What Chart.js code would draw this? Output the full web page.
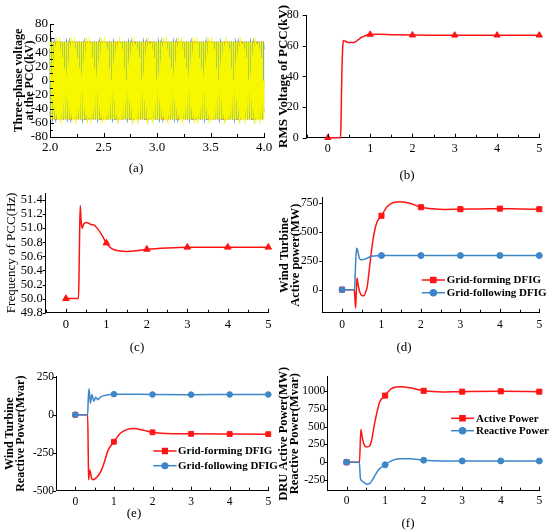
<!DOCTYPE html>
<html><head><meta charset="utf-8">
<script src="https://cdn.jsdelivr.net/npm/chart.js@4.4.0/dist/chart.umd.min.js"></script>
<style>
html,body{margin:0;padding:0;background:#fff;}
#wrap{position:relative;width:550px;height:532px;overflow:hidden;background:#fff;}
canvas{position:absolute;left:0;top:0;}
.cap{position:absolute;font-family:"Liberation Serif","Times New Roman",serif;font-size:13px;color:#000;transform:translate(-50%,-50%);white-space:nowrap;}
</style></head><body><div id="wrap">
<canvas id="ca" width="550" height="532"></canvas>
<canvas id="cb" width="550" height="532"></canvas>
<canvas id="cc" width="550" height="532"></canvas>
<canvas id="cd" width="550" height="532"></canvas>
<canvas id="ce" width="550" height="532"></canvas>
<canvas id="cf" width="550" height="532"></canvas>
<div class="cap" style="left:136px;top:168px">(a)</div>
<div class="cap" style="left:407px;top:175px">(b)</div>
<div class="cap" style="left:137px;top:347px">(c)</div>
<div class="cap" style="left:404px;top:347px">(d)</div>
<div class="cap" style="left:134px;top:513px">(e)</div>
<div class="cap" style="left:408px;top:523px">(f)</div>
</div>
<script>
// ---------------- DATA ----------------
// (a) three-phase PCC voltage: one 50 Hz cycle sampled every 1 ms (kV), phases offset in samples
const voltCycleKV = [0, 17, 32.3, 44.5, 52.3, 55, 52.3, 44.5, 32.3, 17, 0, -17, -32.3, -44.5, -52.3, -55, -52.3, -44.5, -32.3, -17];
const voltPhaseOffset = [0, 7, 13];
const voltTimeStart = 2.0;
const voltTimeStep = 0.001;
const voltSampleCount = 2001;
const ticksXA = [2.0, 2.5, 3.0, 3.5, 4.0];
const minorXA = [2.25, 2.75, 3.25, 3.75];
const ticksYA = [-80, -60, -40, -20, 0, 20, 40, 60, 80];
const minorYA = [-70, -50, -30, -10, 10, 30, 50, 70];

// (b) RMS voltage of PCC (kV)
const timeB = [0, 0.30, 0.31, 0.33, 0.35, 0.37, 0.40, 0.45, 0.5, 0.58, 0.65, 0.72, 0.8, 0.9, 1.0, 1.2, 1.5, 2, 2.5, 3, 4, 5];
const rmsB  = [0, 0, 8, 40, 58, 63.5, 63.2, 62.4, 62.1, 62.1, 62.6, 64, 65.6, 66.8, 67.4, 67.5, 67.3, 67, 66.9, 66.9, 66.9, 66.9];
const ticksYB = [0, 20, 40, 60, 80];

// (c) Frequency of PCC (Hz)
const timeC = [0, 0.31, 0.325, 0.34, 0.354, 0.375, 0.40, 0.44, 0.5, 0.56, 0.64, 0.68, 0.74, 0.8, 0.87, 0.93, 1.0, 1.13, 1.3, 1.5, 1.75, 2.0, 2.5, 3, 4, 5];
const freqC = [50, 50, 50.4, 51.0, 51.32, 51.1, 51.0, 51.06, 51.08, 51.07, 51.05, 51.05, 51.02, 50.98, 50.92, 50.86, 50.79, 50.71, 50.68, 50.67, 50.68, 50.7, 50.72, 50.73, 50.73, 50.73];
const ticksYC = [49.8, 50.0, 50.2, 50.4, 50.6, 50.8, 51.0, 51.2, 51.4];

// (d) Wind turbine active power (MW)
const timeGfmD = [0, 0.31, 0.32, 0.345, 0.36, 0.38, 0.41, 0.45, 0.5, 0.55, 0.59, 0.64, 0.68, 0.72, 0.76, 0.83, 0.89, 1.0, 1.14, 1.31, 1.48, 1.74, 2.0, 2.3, 2.6, 3, 3.5, 4, 4.5, 5];
const gfmD     = [0, 0, -40, -159, -30, 101, 40, -20, -50, -52, -29, 29, 144, 260, 375, 519, 591, 643, 721, 758, 764, 750, 717, 703, 698, 700, 702, 705, 702, 700];
const timeGflD = [0, 0.32, 0.335, 0.36, 0.38, 0.41, 0.44, 0.48, 0.53, 0.59, 0.66, 0.72, 0.8, 1.0, 2, 3, 4, 5];
const gflD     = [0, 0, 150, 330, 360, 320, 274, 260, 262, 268, 278, 288, 293, 297, 297, 297, 297, 297];
const ticksYD = [0, 250, 500, 750];

// (e) Wind turbine reactive power (Mvar)
const timeGfmE = [0, 0.32, 0.335, 0.345, 0.375, 0.42, 0.46, 0.5, 0.59, 0.68, 0.77, 0.85, 1.0, 1.16, 1.33, 1.5, 1.77, 2.0, 2.5, 3, 4, 5];
const gfmE     = [0, 0, -250, -428, -363, -417, -428, -424, -402, -363, -298, -233, -178, -124, -98, -91, -102, -116, -125, -126, -127, -128];
const timeGflE = [0, 0.32, 0.335, 0.355, 0.39, 0.43, 0.48, 0.53, 0.59, 0.63, 0.72, 1.0, 2, 3, 4, 5];
const gflE     = [0, 0, 100, 170, 76, 133, 89, 115, 98, 111, 124, 135, 133, 132, 133, 133];
const ticksYE = [-500, -250, 0, 250];

// (f) DRU active / reactive power
const timeActF = [0, 0.335, 0.37, 0.405, 0.45, 0.52, 0.59, 0.65, 0.71, 0.78, 0.86, 1.0, 1.16, 1.38, 1.64, 2.0, 2.5, 3, 4, 5];
const actF     = [0, 0, 458, 355, 252, 215, 224, 308, 495, 682, 846, 935, 1033, 1058, 1045, 1002, 986, 990, 995, 990];
const timeReaF = [0, 0.33, 0.36, 0.43, 0.52, 0.6, 0.69, 0.82, 1.0, 1.16, 1.38, 1.64, 2.0, 2.5, 3, 4, 5];
const reaF     = [0, 0, -229, -276, -308, -299, -229, -112, -37, 19, 47, 47, 28, 18, 17, 18, 17];
const ticksYF = [-250, 0, 250, 500, 750, 1000];

// shared x ticks for (b)-(f)
const ticksXT = [0, 1, 2, 3, 4, 5];
const minorXT = [-0.5, 0.5, 1.5, 2.5, 3.5, 4.5];
const markerTimes = [0, 1, 2, 3, 4, 5];

// ---------------- RENDERING ----------------
const FONT = '"Liberation Serif", "Times New Roman", serif';
const RED = '#ff1414';
const BLUE = '#3d86c8';

function xy(times, vals) { return times.map((t, i) => ({ x: t, y: vals[i] })); }

const tickMarks = {
  id: 'tickMarks',
  afterDraw(chart, args, o) {
    if (!o || !o.x) return;
    const ctx = chart.ctx, a = chart.chartArea, xs = chart.scales.x, ys = chart.scales.y;
    ctx.save(); ctx.strokeStyle = '#000'; ctx.lineWidth = 1;
    ctx.beginPath();
    const xv = (vals, len) => vals.forEach(v => {
      const p = Math.round(xs.getPixelForValue(v)) + 0.5;
      ctx.moveTo(p, a.bottom); ctx.lineTo(p, a.bottom + o.x.dir * len);
    });
    const yv = (vals, len) => vals.forEach(v => {
      const p = Math.round(ys.getPixelForValue(v)) + 0.5;
      ctx.moveTo(a.left, p); ctx.lineTo(a.left - o.y.dir * len, p);
    });
    xv(o.x.major, o.x.len); xv(o.x.minor || [], o.x.mlen || o.x.len);
    yv(o.y.major, o.y.len); yv(o.y.minor || [], o.y.mlen || o.y.len);
    ctx.stroke(); ctx.restore();
  }
};

const insideLegend = {
  id: 'insideLegend',
  afterDraw(chart, args, o) {
    if (!o || !o.items) return;
    const ctx = chart.ctx;
    ctx.save();
    o.items.forEach((idx, i) => {
      const ds = chart.data.datasets[idx];
      const y = o.y + i * o.dy;
      ctx.strokeStyle = ds.borderColor; ctx.lineWidth = 1.5;
      ctx.beginPath(); ctx.moveTo(o.x, y); ctx.lineTo(o.x + o.len, y); ctx.stroke();
      ctx.fillStyle = ds.pointBackgroundColor; ctx.strokeStyle = ds.pointBorderColor;
      Chart.helpers.drawPoint(ctx, { pointStyle: ds.pointStyle, radius: ds.markR, borderWidth: 1, rotation: 0 }, o.x + o.len / 2, y);
      ctx.fillStyle = '#000'; ctx.font = 'bold 11px ' + FONT;
      ctx.textBaseline = 'middle'; ctx.textAlign = 'left';
      ctx.fillText(ds.label, o.textX, y + 0.5);
    });
    ctx.restore();
  }
};

function series(label, data, color, style, r, order) {
  return {
    label, data, borderColor: color, backgroundColor: color,
    pointBackgroundColor: color, pointBorderColor: color, pointStyle: style, markR: r,
    borderWidth: 1.5, cubicInterpolationMode: 'monotone', clip: false, order,
    pointRadius: c => (markerTimes.includes(c.raw.x) ? r : 0), pointBorderWidth: 1
  };
}

function panel(id, s) {
  const b = s.box;
  return new Chart(document.getElementById(id), {
    type: 'line',
    data: { datasets: s.datasets },
    options: {
      responsive: false, animation: false, events: [], parsing: false, normalized: true,
      layout: { padding: { left: 0, top: b.T, right: 550 - b.R, bottom: 0 } },
      plugins: { legend: { display: false }, tooltip: { enabled: false },
        tickMarks: s.marks, insideLegend: s.legend || {} },
      scales: {
        x: {
          type: 'linear', min: s.xMin, max: s.xMax,
          grid: { display: false, drawTicks: false },
          border: { display: true, color: '#000', width: 1 },
          ticks: { autoSkip: false, maxRotation: 0, minRotation: 0, padding: s.xPad, color: '#000',
            font: { family: FONT, size: s.tickSize }, callback: s.xFmt || (v => String(v)) },
          afterBuildTicks: sc => { sc.ticks = s.xTicks.map(v => ({ value: v })); },
          afterFit: sc => { sc.height = 532 - b.B; }
        },
        y: {
          type: 'linear', min: s.yMin, max: s.yMax,
          grid: { display: false, drawTicks: false },
          border: { display: true, color: '#000', width: 1 },
          ticks: { autoSkip: false, padding: s.yPad, color: '#000',
            font: { family: FONT, size: s.tickSize }, callback: s.yFmt || (v => String(v)) },
          afterBuildTicks: sc => { sc.ticks = s.yTicks.map(v => ({ value: v })); },
          afterFit: sc => { sc.width = b.L; },
          title: { display: true, text: s.yTitle, color: '#000',
            font: { family: FONT, size: s.titleSize, weight: s.titleWeight || 'bold', lineHeight: s.titleLH },
            padding: { top: s.titlePad, bottom: 0 } }
        }
      }
    },
    plugins: [tickMarks, insideLegend]
  });
}

// (a)
function phaseData(k) {
  const out = [];
  for (let i = 0; i < voltSampleCount; i++) {
    out.push({ x: voltTimeStart + i * voltTimeStep, y: voltCycleKV[(i + voltPhaseOffset[k]) % voltCycleKV.length] });
  }
  return out;
}
const phaseColors = ['#f7f700', '#4a8fc8', '#f03c3c'];
const phaseWidths = [1.6, 1.2, 0.8];
panel('ca', {
  box: { L: 50, R: 264, T: 24, B: 137 },
  xMin: 2.0, xMax: 4.0, yMin: -80, yMax: 80,
  xTicks: ticksXA, yTicks: ticksYA, xFmt: v => v.toFixed(1),
  tickSize: 13, xPad: 3, yPad: 2,
  yTitle: ['Three-phase voltage', 'at the PCC(kV)'], titleSize: 12, titleLH: 0.88, titlePad: 13.7,
  marks: { x: { major: ticksXA, minor: minorXA, len: 4, mlen: 3, dir: -1 }, y: { major: ticksYA, minor: minorYA, len: 4, mlen: 3, dir: -1 } },
  datasets: [0, 1, 2].map(k => ({
    data: phaseData(k), borderColor: phaseColors[k], borderWidth: phaseWidths[k], pointRadius: 0, tension: 0, clip: false, order: k
  }))
});

// (b)
panel('cb', {
  box: { L: 306.7, R: 539.3, T: 15, B: 137.7 },
  xMin: -0.5, xMax: 5, yMin: 0, yMax: 80,
  xTicks: ticksXT, yTicks: ticksYB, tickSize: 12, xPad: 4, yPad: 8,
  yTitle: 'RMS Voltage of PCC(kV)', titleSize: 13, titleLH: 1.0, titlePad: 276.8,
  marks: { x: { major: ticksXT, minor: minorXT, len: 4, mlen: 3, dir: -1 }, y: { major: ticksYB, len: 4, dir: 1 } },
  datasets: [series('RMS', xy(timeB, rmsB), RED, 'triangle', 3.6, 1)]
});

// (c)
panel('cc', {
  box: { L: 45.7, R: 268.3, T: 193, B: 312.7 },
  xMin: -0.5, xMax: 5, yMin: 49.8, yMax: 51.5,
  xTicks: ticksXT, yTicks: ticksYC, yFmt: v => v.toFixed(1), tickSize: 12.5, xPad: 5, yPad: 3,
  yTitle: 'Frequency of PCC(Hz)', titleSize: 13, titleWeight: 'normal', titleLH: 1.0, titlePad: 5.2,
  marks: { x: { major: ticksXT, minor: minorXT, len: 4, mlen: 3, dir: -1 }, y: { major: ticksYC, len: 3, dir: 1 } },
  datasets: [series('Frequency', xy(timeC, freqC), RED, 'triangle', 3.8, 1)]
});

// (d)
panel('cd', {
  box: { L: 322.3, R: 539.3, T: 197.7, B: 312.7 },
  xMin: -0.5, xMax: 5, yMin: -200, yMax: 800,
  xTicks: ticksXT, yTicks: ticksYD, tickSize: 11.5, xPad: 5, yPad: 4,
  yTitle: ['Wind Turbine', 'Active power(MW)'], titleSize: 12.5, titleLH: 0.91, titlePad: 278.6,
  marks: { x: { major: ticksXT, minor: minorXT, len: 4, mlen: 3, dir: -1 }, y: { major: ticksYD, len: 3, dir: 1 } },
  legend: { items: [0, 1], x: 421.7, len: 23.3, y: 280, dy: 12.7, textX: 446.7 },
  datasets: [
    series('Grid-forming DFIG', xy(timeGfmD, gfmD), RED, 'rect', 3.6, 2),
    series('Grid-following DFIG', xy(timeGflD, gflD), BLUE, 'circle', 3.0, 1)
  ]
});

// (e)
panel('ce', {
  box: { L: 56, R: 268.3, T: 376.7, B: 490.7 },
  xMin: -0.5, xMax: 5, yMin: -500, yMax: 250,
  xTicks: ticksXT, yTicks: ticksYE, tickSize: 11.5, xPad: 4, yPad: 2,
  yTitle: ['Wind Turbine', 'Reactive Power(Mvar)'], titleSize: 12, titleLH: 0.92, titlePad: 4.5,
  marks: { x: { major: ticksXT, minor: minorXT, len: 4, mlen: 3, dir: -1 }, y: { major: ticksYE, len: 3, dir: 1 } },
  legend: { items: [0, 1], x: 153.3, len: 23.3, y: 451, dy: 14.7, textX: 178 },
  datasets: [
    series('Grid-forming DFIG', xy(timeGfmE, gfmE), RED, 'rect', 3.4, 2),
    series('Grid-following DFIG', xy(timeGflE, gflE), BLUE, 'circle', 2.8, 1)
  ]
});

// (f)
panel('cf', {
  box: { L: 327.3, R: 539.3, T: 376.7, B: 490.7 },
  xMin: -0.5, xMax: 5, yMin: -400, yMax: 1200,
  xTicks: ticksXT, yTicks: ticksYF, tickSize: 11.5, xPad: 3, yPad: 2,
  yTitle: ['DRU Active Power(MW)', 'Reactive Power(Mvar)'], titleSize: 12.5, titleLH: 0.94, titlePad: 277.5,
  marks: { x: { major: ticksXT, minor: minorXT, len: 4, mlen: 3, dir: -1 }, y: { major: ticksYF, len: 3, dir: 1 } },
  legend: { items: [0, 1], x: 451, len: 23, y: 418.3, dy: 12.4, textX: 476 },
  datasets: [
    series('Active Power', xy(timeActF, actF), RED, 'rect', 3.6, 2),
    series('Reactive Power', xy(timeReaF, reaF), BLUE, 'circle', 3.0, 1)
  ]
});
</script>
</body></html>
